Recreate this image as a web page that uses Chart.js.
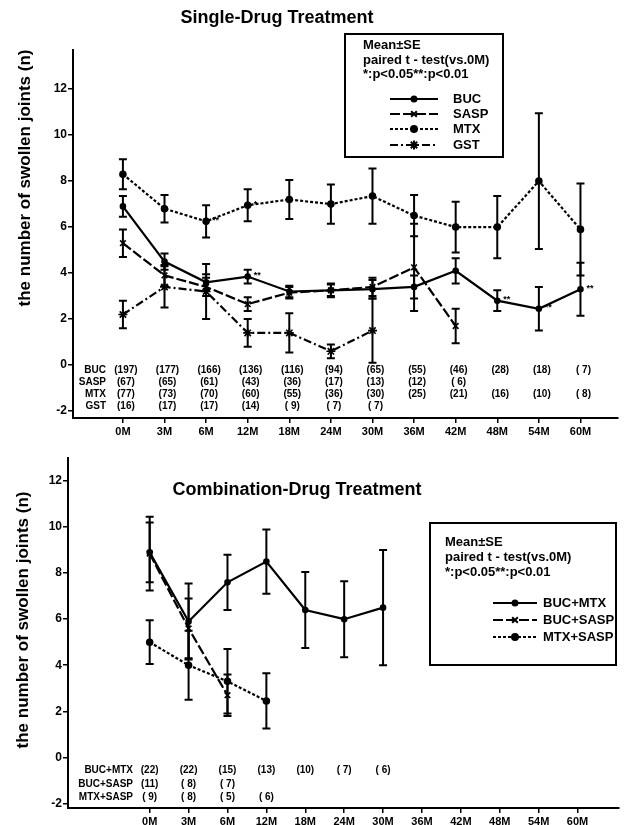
<!DOCTYPE html>
<html>
<head>
<meta charset="utf-8">
<script src="https://cdn.jsdelivr.net/npm/chart.js@4.4.1/dist/chart.umd.min.js"></script>
<style>
  body { margin: 0; background: #fff; width: 624px; height: 825px; overflow: hidden; position: relative; }
  .panel { position: absolute; left: 0; width: 624px; }
  #top { top: 0; height: 460px; }
  #bottom { top: 440px; height: 385px; }
</style>
</head>
<body>
<div class="panel" id="top"><canvas id="singleChart" width="624" height="460"></canvas></div>
<div class="panel" id="bottom"><canvas id="comboChart" width="624" height="385"></canvas></div>
<script>
const months = ['0M', '3M', '6M', '12M', '18M', '24M', '30M', '36M', '42M', '48M', '54M', '60M'];
const yTicks = [-2, 0, 2, 4, 6, 8, 10, 12];

// single-drug treatment (mean and SE)
const bucMean  = [6.9, 4.5, 3.6, 3.85, 3.2, 3.25, 3.3, 3.4, 4.1, 2.8, 2.45, 3.3];
const bucSE    = [0.45, 0.35, 0.35, 0.3, 0.25, 0.3, 0.4, 0.5, 0.55, 0.45, 0.95, 1.15];
const saspMean = [5.3, 3.9, 3.4, 2.65, 3.15, 3.25, 3.4, 4.25, 1.7];
const saspSE   = [0.6, 0.45, 0.4, 0.3, 0.25, 0.25, 0.4, 1.9, 0.75];
const mtxMean  = [8.3, 6.8, 6.25, 6.95, 7.2, 7.0, 7.35, 6.5, 6.0, 6.0, 8.0, 5.9];
const mtxSE    = [0.65, 0.6, 0.7, 0.7, 0.85, 0.85, 1.2, 0.9, 1.1, 1.35, 2.95, 2.0];
const gstMean  = [2.2, 3.4, 3.2, 1.4, 1.4, 0.6, 1.5];
const gstSE    = [0.6, 0.9, 1.2, 0.6, 0.85, 0.3, 1.4];

// number of patients
const bucN  = [197, 177, 166, 136, 116, 94, 65, 55, 46, 28, 18, 7];
const saspN = [67, 65, 61, 43, 36, 17, 13, 12, 6];
const mtxN  = [77, 73, 70, 60, 55, 36, 30, 25, 21, 16, 10, 8];
const gstN  = [16, 17, 17, 14, 9, 7, 7];

// combination-drug treatment
const bucMtxMean  = [8.9, 5.9, 7.6, 8.5, 6.4, 6.0, 6.5];
const bucMtxSE    = [1.3, 1.65, 1.2, 1.4, 1.65, 1.65, 2.5];
const bucSaspMean = [8.85, 5.6, 2.7];
const bucSaspSE   = [1.6, 1.3, 0.9];
const mtxSaspMean = [5.0, 4.0, 3.3, 2.45];
const mtxSaspSE   = [0.95, 1.5, 1.4, 1.2];

const bucMtxN  = [22, 22, 15, 13, 10, 7, 6];
const bucSaspN = [11, 8, 7];
const mtxSaspN = [9, 8, 5, 6];

// significance marks: [dataset, point, text]
const singleMarks = [[0, 3, '**'], [0, 9, '**'], [0, 10, '**'], [0, 11, '**'], [2, 2, '**'], [2, 3, '*']];

const notes = ['Mean\u00b1SE', 'paired t - test(vs.0M)', '*:p<0.05**:p<0.01'];
const FONT = '"Liberation Sans", Arial, sans-serif';

function series(label, means, se, dash, style, radius) {
  return {
    label: label,
    data: means.map((v, i) => ({ x: i, y: v })),
    se: se,
    borderColor: '#000',
    backgroundColor: '#000',
    borderWidth: 2.2,
    borderDash: dash,
    pointStyle: style,
    pointRadius: radius,
    pointBorderWidth: 1.6,
    tension: 0,
    fill: false
  };
}

function countText(n) {
  return n < 10 ? '( ' + n + ')' : '(' + n + ')';
}

// error bars from the SE arrays
const errorBars = {
  id: 'errorBars',
  afterDatasetsDraw(chart) {
    const ctx = chart.ctx;
    const ys = chart.scales.y;
    ctx.save();
    ctx.strokeStyle = '#000';
    ctx.lineWidth = 2;
    ctx.setLineDash([]);
    chart.data.datasets.forEach((ds, di) => {
      const meta = chart.getDatasetMeta(di);
      meta.data.forEach((pt, i) => {
        const m = ds.data[i].y, e = ds.se[i];
        const yTop = ys.getPixelForValue(m + e), yBot = ys.getPixelForValue(m - e);
        ctx.beginPath();
        ctx.moveTo(pt.x, yTop); ctx.lineTo(pt.x, yBot);
        ctx.moveTo(pt.x - 4, yTop); ctx.lineTo(pt.x + 4, yTop);
        ctx.moveTo(pt.x - 4, yBot); ctx.lineTo(pt.x + 4, yBot);
        ctx.stroke();
      });
    });
    ctx.restore();
  }
};

// title, y title, legend box, n table
const figure = {
  id: 'figure',
  afterDraw(chart, args, o) {
    const ctx = chart.ctx;
    const xs = chart.scales.x, ys = chart.scales.y;
    ctx.save();
    ctx.fillStyle = '#000';
    ctx.strokeStyle = '#000';
    ctx.textBaseline = 'middle';

    ctx.font = 'bold 18px ' + FONT;
    ctx.textAlign = 'center';
    ctx.fillText(o.title, o.titleX, o.titleY);

    ctx.save();
    ctx.translate(o.yTitleX, o.yTitleY);
    ctx.rotate(-Math.PI / 2);
    ctx.font = 'bold 17px ' + FONT;
    ctx.fillText('the number of swollen joints (n)', 0, 0);
    ctx.restore();

    // legend
    const b = o.box;
    ctx.lineWidth = 2;
    ctx.setLineDash([]);
    ctx.strokeRect(b.x, b.y, b.w, b.h);
    ctx.font = 'bold 13px ' + FONT;
    ctx.textAlign = 'left';
    notes.forEach((t, i) => ctx.fillText(t, b.x + o.noteDx, o.noteY[i]));
    chart.data.datasets.forEach((ds, i) => {
      const y = o.itemY[i];
      ctx.lineWidth = 2;
      ctx.setLineDash(ds.borderDash);
      ctx.beginPath();
      ctx.moveTo(o.lineX[0], y); ctx.lineTo(o.lineX[1], y);
      ctx.stroke();
      ctx.setLineDash([]);
      Chart.helpers.drawPoint(ctx, { pointStyle: ds.pointStyle, radius: ds.pointRadius, rotation: 0, borderWidth: ds.pointBorderWidth },
        (o.lineX[0] + o.lineX[1]) / 2, y);
      ctx.fillText(ds.label, o.labelX, y);
    });

    // number of patients
    const y0 = ys.getPixelForValue(0);
    ctx.font = 'bold 10px ' + FONT;
    o.rows.forEach((row, r) => {
      const y = y0 + o.rowDy[r];
      ctx.textAlign = 'right';
      ctx.fillText(row.label, o.rowLabelX, y);
      ctx.textAlign = 'center';
      row.counts.forEach((n, i) => ctx.fillText(countText(n), xs.getPixelForValue(i) + o.colDx, y));
    });

    // significance
    ctx.font = 'bold 9px ' + FONT;
    ctx.textAlign = 'left';
    (o.marks || []).forEach(([d, i, t]) => {
      const ds = chart.data.datasets[d];
      ctx.fillText(t, xs.getPixelForValue(i) + 6, ys.getPixelForValue(ds.data[i].y) - 1);
    });
    ctx.restore();
  }
};

function scales(xMin, xMax, yMin, yMax, yWidth, xHeight) {
  return {
    x: {
      type: 'linear', min: xMin, max: xMax,
      afterBuildTicks: s => { s.ticks = months.map((m, i) => ({ value: i })); },
      afterFit: s => { s.height = xHeight; },
      ticks: { callback: v => months[v], color: '#000', font: { family: FONT, size: 11, weight: 'bold' }, padding: 2, maxRotation: 0, autoSkip: false },
      grid: { drawOnChartArea: false, color: '#000', tickLength: 5, lineWidth: 1.5 },
      border: { color: '#000', width: 2 }
    },
    y: {
      min: yMin, max: yMax,
      afterBuildTicks: s => { s.ticks = yTicks.map(v => ({ value: v })); },
      afterFit: s => { s.width = yWidth; },
      ticks: { color: '#000', font: { family: FONT, size: 12, weight: 'bold' }, padding: 1 },
      grid: { drawOnChartArea: false, color: '#000', tickLength: 5, lineWidth: 1.5 },
      border: { color: '#000', width: 2 }
    }
  };
}

new Chart(document.getElementById('singleChart'), {
  type: 'line',
  data: {
    datasets: [
      series('BUC', bucMean, bucSE, [], 'circle', 2.5),
      series('SASP', saspMean, saspSE, [10, 3], 'crossRot', 4),
      series('MTX', mtxMean, mtxSE, [3, 2], 'circle', 3),
      series('GST', gstMean, gstSE, [8, 3, 2, 3], 'star', 4.5)
    ]
  },
  options: {
    responsive: false,
    animation: false,
    devicePixelRatio: 1,
    layout: { padding: { top: 50, right: 6, left: 0, bottom: 0 } },
    scales: scales(-1.2, 11.9, -2.3, 13.7, 73, 42),
    plugins: {
      legend: { display: false },
      tooltip: { enabled: false },
      figure: {
        title: 'Single-Drug Treatment', titleX: 277, titleY: 18,
        yTitleX: 25, yTitleY: 178,
        box: { x: 345, y: 34, w: 158, h: 123 },
        noteDx: 18, noteY: [45, 60, 74],
        itemY: [99, 114, 129, 145], lineX: [390, 438], labelX: 453,
        rows: [
          { label: 'BUC', counts: bucN },
          { label: 'SASP', counts: saspN },
          { label: 'MTX', counts: mtxN },
          { label: 'GST', counts: gstN }
        ],
        rowDy: [5, 17, 29.5, 41.5], rowLabelX: 106, colDx: 3,
        marks: singleMarks
      }
    }
  },
  plugins: [errorBars, figure]
});

new Chart(document.getElementById('comboChart'), {
  type: 'line',
  data: {
    datasets: [
      series('BUC+MTX', bucMtxMean, bucMtxSE, [], 'circle', 2.5),
      series('BUC+SASP', bucSaspMean, bucSaspSE, [10, 3], 'crossRot', 4),
      series('MTX+SASP', mtxSaspMean, mtxSaspSE, [3, 2], 'circle', 3)
    ]
  },
  options: {
    responsive: false,
    animation: false,
    devicePixelRatio: 1,
    layout: { padding: { top: 18, right: 4, left: 0, bottom: 0 } },
    scales: scales(-2.1, 12.05, -2.2, 13.0, 68, 17),
    plugins: {
      legend: { display: false },
      tooltip: { enabled: false },
      figure: {
        title: 'Combination-Drug Treatment', titleX: 297, titleY: 50,
        yTitleX: 23, yTitleY: 180,
        box: { x: 430, y: 83, w: 186, h: 142 },
        noteDx: 15, noteY: [102, 117, 132],
        itemY: [163, 180, 197], lineX: [493, 537], labelX: 543,
        rows: [
          { label: 'BUC+MTX', counts: bucMtxN },
          { label: 'BUC+SASP', counts: bucSaspN },
          { label: 'MTX+SASP', counts: mtxSaspN }
        ],
        rowDy: [13, 27, 40], rowLabelX: 133, colDx: 0
      }
    }
  },
  plugins: [errorBars, figure]
});
</script>
</body>
</html>
